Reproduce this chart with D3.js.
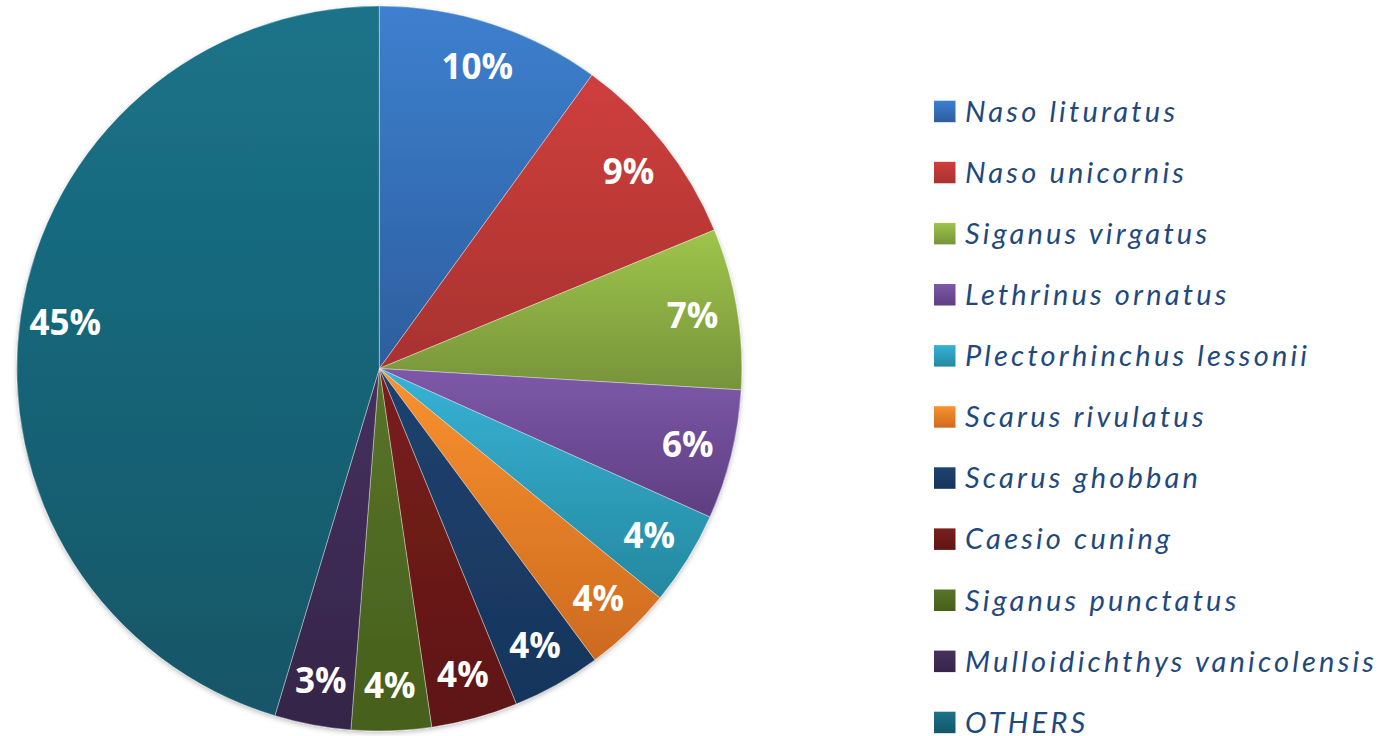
<!DOCTYPE html>
<html>
<head>
<meta charset="utf-8">
<script src="https://cdn.jsdelivr.net/npm/d3@7"></script>
<style>
  html, body { margin: 0; padding: 0; background: #ffffff; }
  svg { display: block; }
</style>
</head>
<body>
<svg id="chart" width="1382" height="736"></svg>
<script>
// ---- data ----
const categories = [
  "Naso lituratus", "Naso unicornis", "Siganus virgatus", "Lethrinus ornatus",
  "Plectorhinchus lessonii", "Scarus rivulatus", "Scarus ghobban", "Caesio cuning",
  "Siganus punctatus", "Mulloidichthys vanicolensis", "OTHERS"
];
const values = [9.98, 8.78, 7.18, 5.78, 4.19, 3.95, 3.97, 3.86, 3.56, 3.40, 45.35];
const labels = ["10%", "9%", "7%", "6%", "4%", "4%", "4%", "4%", "4%", "3%", "45%"];
const colorsTop = ["#3d80cf", "#cf3f3d", "#9fc54b", "#7e58aa", "#37b3d6", "#fa922f",
                   "#1f4270", "#7a1f1d", "#587428", "#46305f", "#1b7389"];
const colorsBottom = ["#2d5e9e", "#a83230", "#76933a", "#5e3f80", "#25889f", "#cd6a1f",
                      "#17355c", "#5e1514", "#465f1c", "#352548", "#145667"];

// ---- layout ----
const W = 1382, H = 736;
const cx = 379.3, cy = 368.5, R = 362.5;
const svg = d3.select("#chart");
const defs = svg.append("defs");

categories.forEach((c, i) => {
  const g = defs.append("linearGradient")
    .attr("id", "grad" + i)
    .attr("x1", 0).attr("y1", 0).attr("x2", 0).attr("y2", 1);
  g.append("stop").attr("offset", "0%").attr("stop-color", colorsTop[i]);
  g.append("stop").attr("offset", "100%").attr("stop-color", colorsBottom[i]);
});

const shadow = defs.append("filter").attr("id", "shadow")
  .attr("x", "-5%").attr("y", "-5%").attr("width", "110%").attr("height", "110%");
shadow.append("feDropShadow").attr("dx", 0).attr("dy", 2)
  .attr("stdDeviation", 2.5).attr("flood-color", "#000").attr("flood-opacity", 0.25);

const pie = d3.pie().sort(null).value(d => d)(values);
const arc = d3.arc().innerRadius(0).outerRadius(R);

const gPie = svg.append("g").attr("transform", `translate(${cx},${cy})`);
gPie.append("g").attr("filter", "url(#shadow)")
  .selectAll("path").data(pie).join("path")
  .attr("d", arc)
  .attr("fill", (d, i) => `url(#grad${i})`)
  .attr("stroke", "rgba(255,255,255,0.45)")
  .attr("stroke-width", 0.8);

const labelArc = d3.arc().innerRadius(R - 45).outerRadius(R - 45);
gPie.append("g").selectAll("text").data(pie).join("text")
  .attr("transform", d => {
    const [x, y] = labelArc.centroid(d);
    return `translate(${x},${y})`;
  })
  .attr("text-anchor", "middle")
  .attr("dy", "0.36em")
  .attr("fill", "#ffffff")
  .attr("font-family", "'Open Sans', 'Liberation Sans', sans-serif")
  .attr("font-weight", "bold")
  .attr("font-size", 35)
  .text((d, i) => labels[i]);

// ---- legend ----
const legendX = 934, legendY = 100.7, legendStep = 61.1, sw = 21.5;
const leg = svg.append("g");
const rows = leg.selectAll("g").data(categories).join("g")
  .attr("transform", (d, i) => `translate(${legendX},${legendY + i * legendStep})`);
rows.append("rect")
  .attr("width", sw).attr("height", sw)
  .attr("fill", (d, i) => `url(#grad${i})`);
rows.append("text")
  .attr("x", 31).attr("y", 21)
  .attr("fill", "#1f497d")
  .attr("font-family", "Lato, 'Open Sans', sans-serif")
  .attr("font-style", "italic")
  .attr("font-size", 29)
  .attr("letter-spacing", 3.2)
  .text(d => d);
</script>
</body>
</html>
